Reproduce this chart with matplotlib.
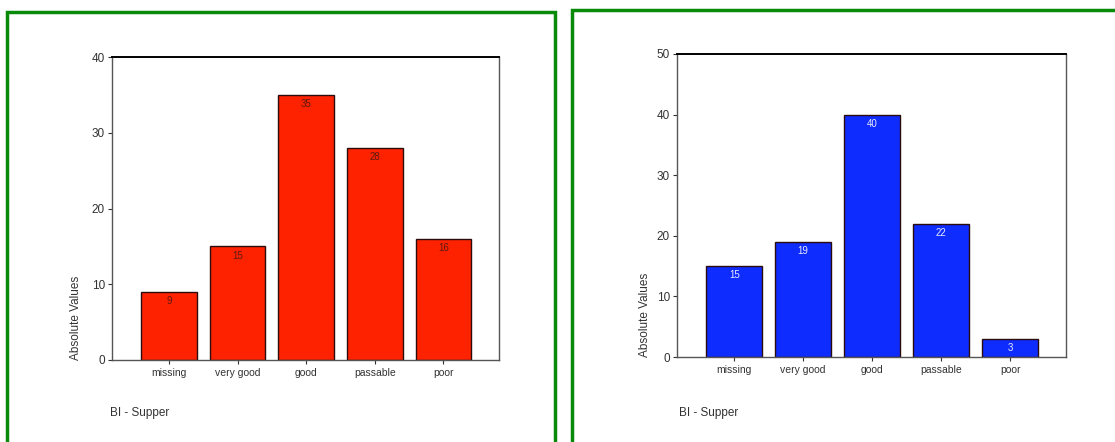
"""Absolute value bar charts for the supper ratings, two groups side by side."""

import matplotlib.pyplot as plt
from matplotlib.patches import Rectangle

plt.rcParams["font.family"] = ["Liberation Sans", "DejaVu Sans"]

categories = ["missing", "very good", "good", "passable", "poor"]
left_counts = [9, 15, 35, 28, 16]
right_counts = [15, 19, 40, 22, 3]
left_yticks = [0, 10, 20, 30, 40]
right_yticks = [0, 10, 20, 30, 40, 50]
caption = "BI - Supper"


def draw_panel(ax, counts, yticks, color, label_color, label_x):
    xs = range(len(categories))
    bars = ax.bar(xs, counts, width=0.81, color=color, edgecolor="#2a0c0c", linewidth=1.0)
    for bar, v in zip(bars, counts):
        ax.annotate(str(v), (bar.get_x() + bar.get_width() / 2, v),
                    xytext=(0, -3), textcoords="offset points",
                    ha="center", va="top", fontsize=7, color=label_color)
    ax.set_xlim(-0.83, 4.81)
    ax.set_ylim(0, yticks[-1])
    ax.set_yticks(yticks)
    ax.set_xticks(list(xs))
    ax.set_xticklabels(categories, fontsize=7.5)
    ax.tick_params(axis="y", labelsize=8.5, length=3, width=0.8, pad=2, colors="#333333")
    ax.tick_params(axis="x", length=3, width=0.8, pad=3, colors="#333333")
    for s in ("left", "right", "bottom"):
        ax.spines[s].set_color("#555555")
        ax.spines[s].set_linewidth(1.0)
    ax.spines["top"].set_color("black")
    ax.spines["top"].set_linewidth(1.4)
    ax.set_ylabel("Absolute Values", fontsize=8.5, color="#333333")
    ax.yaxis.set_label_coords(label_x, 0.0)
    ax.yaxis.label.set_horizontalalignment("left")


fig = plt.figure(figsize=(11.15, 4.42), dpi=100)

# green frames around each panel
fig.patches.append(Rectangle((7 / 1115, -0.05), 548 / 1115, 1.05 - 12 / 442,
                             transform=fig.transFigure, fill=False,
                             edgecolor="#0a8a0a", linewidth=2.5))
fig.patches.append(Rectangle((572 / 1115, -0.05), 0.6, 1.05 - 10 / 442,
                             transform=fig.transFigure, fill=False,
                             edgecolor="#0a8a0a", linewidth=2.5))

ax1 = fig.add_axes([112 / 1115, 1 - 360 / 442, 387 / 1115, 303 / 442])
draw_panel(ax1, left_counts, left_yticks, "#ff2200", "#5a1a10", -0.077)

ax2 = fig.add_axes([677 / 1115, 1 - 357 / 442, 389 / 1115, 303 / 442])
draw_panel(ax2, right_counts, right_yticks, "#0f2cff", "#e8ecff", -0.068)

fig.text(110 / 1115, 1 - 413 / 442, caption, fontsize=8.5, color="#333333", va="center")
fig.text(679 / 1115, 1 - 413 / 442, caption, fontsize=8.5, color="#333333", va="center")

fig.savefig("out.png", dpi=100)
